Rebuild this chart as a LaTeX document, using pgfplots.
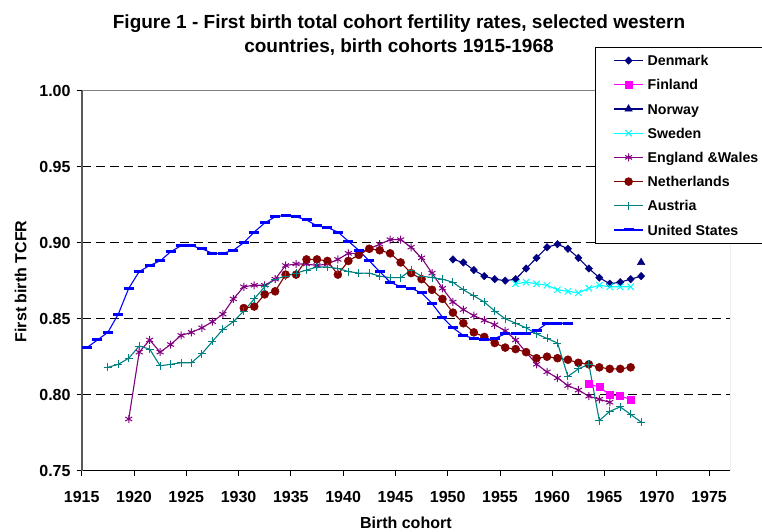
\documentclass[border=0pt]{standalone}
\usepackage{fontspec}
\setmainfont{Liberation Sans}
\usepackage{pgfplots}
\pgfplotsset{compat=1.18}
\definecolor{cDK}{HTML}{000080}
\definecolor{cFI}{HTML}{FF00FF}
\definecolor{cSE}{HTML}{00FFFF}
\definecolor{cEW}{HTML}{800080}
\definecolor{cNL}{HTML}{800000}
\definecolor{cAT}{HTML}{008080}
\definecolor{cUS}{HTML}{0000FF}
\begin{document}
\begin{tikzpicture}[x=1bp,y=1bp]
\useasboundingbox (0,0) rectangle (762,532);
\begin{axis}[
  at={(81.7bp,61.3bp)}, anchor=south west,
  scale only axis, width=648.3bp, height=380bp,
  xmin=1914.5, xmax=1976.5, ymin=0.75, ymax=1.0,
  axis x line*=bottom, axis y line*=left,
  x axis line style={black, line width=1.1bp},
  y axis line style={black!65, line width=1.8bp},
  xtick={1914.5,1919.5,1924.5,1929.5,1934.5,1939.5,1944.5,1949.5,1954.5,1959.5,1964.5,1969.5,1974.5},
  xticklabels={1915,1920,1925,1930,1935,1940,1945,1950,1955,1960,1965,1970,1975},
  ytick={0.75,0.80,0.85,0.90,0.95,1.00},
  minor tick num=0,
  tick align=outside, major tick length=5bp,
  tick style={black, line width=0.8bp},
  /pgf/number format/assume math mode=true,
  ticklabel style={font=\fontsize{16bp}{19bp}\selectfont\bfseries},
  yticklabel style={/pgf/number format/fixed, /pgf/number format/fixed zerofill, /pgf/number format/precision=2},
  yticklabel style={anchor=east, inner xsep=0pt, xshift=-6bp},
  xticklabel style={anchor=base, yshift=-27bp},
  ymajorgrids,
  major grid style={black, dash pattern=on 9bp off 5bp, line width=0.9bp},
  xlabel={Birth cohort},
  xlabel style={at={(axis description cs:0.5,0)}, anchor=base, yshift=-58.3bp, font=\fontsize{16bp}{19bp}\selectfont\bfseries},
  ylabel={First birth TCFR},
  ylabel style={at={(axis description cs:-0.094,0.498)}, anchor=center, font=\fontsize{16bp}{19bp}\selectfont\bfseries},
  legend style={at={(axis description cs:0.7918,1.115)}, anchor=north west,
    draw=black, line width=1bp, fill=white, inner xsep=0.5bp, inner ysep=1bp, row sep=0pt,
    font=\fontsize{14.2bp}{17bp}\selectfont\bfseries,
    nodes={inner xsep=4bp, inner ysep=5.2bp, text height=12bp, text depth=1.8bp}},
  legend cell align=left,
  legend image code/.code={
    \path (-17.5bp,0bp);
    \draw[mark repeat=2,mark phase=2] plot coordinates {(0bp,0bp) (14.5bp,0bp) (29bp,0bp)};
  },
  every axis plot/.append style={line width=1.1bp},
]
% Denmark
\addplot[color=cDK, mark=diamond*, mark size=3.7bp, mark options={xscale=1.3, fill=cDK, line width=0.5bp}] coordinates {
(1950,0.889) (1951,0.887) (1952,0.882) (1953,0.878) (1954,0.876) (1955,0.875) (1956,0.876) (1957,0.883) (1958,0.890) (1959,0.897) (1960,0.899) (1961,0.896) (1962,0.890) (1963,0.883) (1964,0.877) (1965,0.873) (1966,0.874) (1967,0.876) (1968,0.878)
};
% Finland
\addplot[color=cFI, mark=square*, mark size=3.5bp, mark options={fill=cFI, line width=0.5bp}] coordinates {
(1963,0.807) (1964,0.805) (1965,0.800) (1966,0.799) (1967,0.797)
};
% Norway
\addplot[color=cDK, mark=triangle*, mark size=4.3bp, mark options={fill=cDK, line width=0.5bp}] coordinates {
(1968,0.887)
};
% Sweden
\addplot[color=cSE, mark=x, mark size=4.5bp, mark options={line width=1bp}] coordinates {
(1956,0.873) (1957,0.874) (1958,0.873) (1959,0.872) (1960,0.869) (1961,0.868) (1962,0.867) (1963,0.870) (1964,0.872) (1965,0.871) (1966,0.871) (1967,0.871)
};
% England & Wales
\addplot[color=cEW, mark=asterisk, mark size=4bp, mark options={line width=1bp}] coordinates {
(1919,0.784) (1920,0.828) (1921,0.836) (1922,0.828) (1923,0.833) (1924,0.839) (1925,0.841) (1926,0.844) (1927,0.848) (1928,0.853) (1929,0.863) (1930,0.871) (1931,0.872) (1932,0.872) (1933,0.876) (1934,0.885) (1935,0.886) (1936,0.886) (1937,0.885) (1938,0.886) (1939,0.889) (1940,0.893) (1941,0.893) (1942,0.896) (1943,0.899) (1944,0.902) (1945,0.902) (1946,0.897) (1947,0.890) (1948,0.880) (1949,0.870) (1950,0.861) (1951,0.856) (1952,0.852) (1953,0.849) (1954,0.846) (1955,0.842) (1956,0.836) (1957,0.828) (1958,0.820) (1959,0.815) (1960,0.811) (1961,0.806) (1962,0.803) (1963,0.799) (1964,0.797) (1965,0.795)
};
% Netherlands
\addplot[color=cNL, mark=*, mark size=4bp, mark options={fill=cNL, line width=0.5bp}] coordinates {
(1930,0.857) (1931,0.858) (1932,0.866) (1933,0.868) (1934,0.879) (1935,0.879) (1936,0.889) (1937,0.889) (1938,0.888) (1939,0.879) (1940,0.888) (1941,0.892) (1942,0.896) (1943,0.895) (1944,0.893) (1945,0.887) (1946,0.880) (1947,0.876) (1948,0.869) (1949,0.863) (1950,0.854) (1951,0.847) (1952,0.841) (1953,0.838) (1954,0.834) (1955,0.831) (1956,0.830) (1957,0.828) (1958,0.824) (1959,0.825) (1960,0.824) (1961,0.823) (1962,0.821) (1963,0.820) (1964,0.818) (1965,0.817) (1966,0.817) (1967,0.818)
};
% Austria
\addplot[color=cAT, mark=+, mark size=4bp, mark options={line width=1bp}] coordinates {
(1917,0.818) (1918,0.820) (1919,0.824) (1920,0.832) (1921,0.830) (1922,0.819) (1923,0.820) (1924,0.821) (1925,0.821) (1926,0.827) (1927,0.835) (1928,0.843) (1929,0.848) (1930,0.855) (1931,0.863) (1932,0.871) (1933,0.876) (1934,0.878) (1935,0.880) (1936,0.882) (1937,0.884) (1938,0.884) (1939,0.883) (1940,0.881) (1941,0.880) (1942,0.880) (1943,0.878) (1944,0.877) (1945,0.877) (1946,0.882) (1947,0.878) (1948,0.877) (1949,0.876) (1950,0.874) (1951,0.869) (1952,0.865) (1953,0.861) (1954,0.855) (1955,0.850) (1956,0.847) (1957,0.844) (1958,0.840) (1959,0.837) (1960,0.834) (1961,0.812) (1962,0.817) (1963,0.820) (1964,0.783) (1965,0.789) (1966,0.792) (1967,0.787) (1968,0.782)
};
% United States
\addplot[color=cUS, mark=-, mark size=5bp, mark options={line width=3bp}] coordinates {
(1915,0.831) (1916,0.836) (1917,0.841) (1918,0.853) (1919,0.870) (1920,0.881) (1921,0.885) (1922,0.888) (1923,0.894) (1924,0.898) (1925,0.898) (1926,0.896) (1927,0.893) (1928,0.893) (1929,0.895) (1930,0.900) (1931,0.907) (1932,0.913) (1933,0.917) (1934,0.918) (1935,0.917) (1936,0.915) (1937,0.911) (1938,0.910) (1939,0.907) (1940,0.901) (1941,0.895) (1942,0.888) (1943,0.881) (1944,0.874) (1945,0.871) (1946,0.870) (1947,0.867) (1948,0.860) (1949,0.851) (1950,0.844) (1951,0.839) (1952,0.837) (1953,0.836) (1954,0.837) (1955,0.840) (1956,0.840) (1957,0.840) (1958,0.842) (1959,0.847) (1960,0.847) (1961,0.847)
};
\draw[black!50, line width=0.9bp] (rel axis cs:0,1) -- (rel axis cs:1,1) -- (rel axis cs:1,0);
\legend{Denmark, Finland, Norway, Sweden, England \&Wales, Netherlands, Austria, United States}
\end{axis}
\node[anchor=base, font=\fontsize{19bp}{23bp}\selectfont\bfseries] at (399,503) {Figure 1 - First birth total cohort fertility rates, selected western};
\node[anchor=base, font=\fontsize{19bp}{23bp}\selectfont\bfseries] at (399,479) {countries, birth cohorts 1915-1968};
\end{tikzpicture}
\end{document}
